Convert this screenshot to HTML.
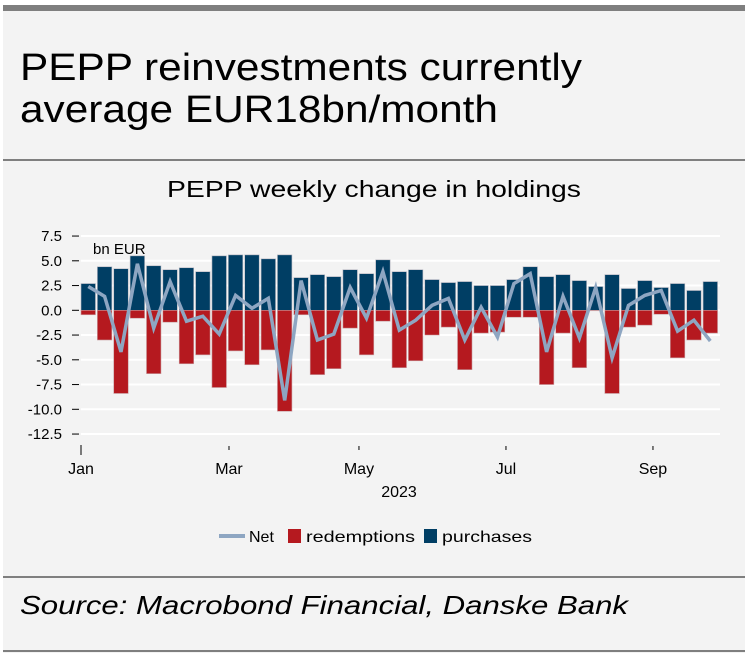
<!DOCTYPE html>
<html><head><meta charset="utf-8"><style>
html,body{margin:0;padding:0;background:#fff;}
svg{display:block;}
</style></head><body>
<svg id="c" width="750" height="657" xmlns="http://www.w3.org/2000/svg" font-family="'Liberation Sans', sans-serif">
<rect x="3" y="5" width="742" height="648" fill="#f3f3f3"/>
<rect x="3" y="5" width="742" height="6" fill="#7f7f7f"/>
<rect x="3" y="159" width="742" height="2" fill="#7f7f7f"/>
<rect x="3" y="576" width="742" height="2" fill="#7f7f7f"/>
<rect x="3" y="650" width="742" height="2" fill="#7f7f7f"/>
<text x="20" y="80" font-size="38" fill="#000" textLength="562" lengthAdjust="spacingAndGlyphs">PEPP reinvestments currently</text>
<text x="20" y="122" font-size="38" fill="#000" textLength="478" lengthAdjust="spacingAndGlyphs">average EUR18bn/month</text>
<text x="167" y="197" font-size="23" fill="#000" textLength="414" lengthAdjust="spacingAndGlyphs">PEPP weekly change in holdings</text>
<g id="grid"></g>
<g id="yax"></g>
<g id="bars"></g>
<g id="line"></g>
<text x="93" y="254" font-size="15" fill="#000">bn EUR</text>
<g id="xax"></g>
<text x="399" y="497" font-size="16" text-anchor="middle" fill="#000">2023</text>
<g>
<line x1="219" y1="536" x2="245" y2="536" stroke="#8ea6c2" stroke-width="4"/>
<text x="249" y="542" font-size="16" fill="#000">Net</text>
<rect x="288" y="529" width="13" height="14" fill="#b5191f"/>
<text x="306" y="542" font-size="16" fill="#000" textLength="109" lengthAdjust="spacingAndGlyphs">redemptions</text>
<rect x="424" y="529" width="13" height="14" fill="#003e64"/>
<text x="442" y="542" font-size="16" fill="#000" textLength="90" lengthAdjust="spacingAndGlyphs">purchases</text>
</g>
<text x="20" y="614" font-size="26" font-style="italic" fill="#000" textLength="608" lengthAdjust="spacingAndGlyphs">Source: Macrobond Financial, Danske Bank</text>
</svg>
<script>
const purchases=[2.7,4.4,4.2,5.5,4.5,4.1,4.3,3.9,5.5,5.6,5.6,5.2,5.6,3.3,3.6,3.4,4.1,3.7,5.1,3.9,4.1,3.1,2.8,2.9,2.5,2.5,3.1,4.4,3.4,3.6,3.0,2.4,3.6,2.2,3.0,2.3,2.7,2.0,2.9];
const redemptions=[-0.45,-3.0,-8.4,-0.8,-6.4,-1.2,-5.4,-4.5,-7.8,-4.1,-5.5,-4.0,-10.2,-0.45,-6.5,-5.9,-1.8,-4.5,-1.1,-5.8,-5.1,-2.5,-1.7,-6.0,-2.3,-2.2,-0.7,-0.7,-7.5,-2.3,-5.8,-0.05,-8.4,-1.7,-1.5,-0.4,-4.8,-3.0,-2.3];
const net=[2.4,1.4,-4.2,4.7,-1.8,2.9,-1.1,-0.6,-2.4,1.5,0.2,1.2,-9.1,3.0,-3.0,-2.4,2.3,-0.8,3.9,-2.0,-1.0,0.5,1.2,-3.0,0.3,-2.7,2.7,3.7,-4.2,1.4,-2.8,2.3,-4.8,0.5,1.5,2.0,-2.1,-1.0,-3.1];
const yTicks=[7.5,5,2.5,0,-2.5,-5,-7.5,-10,-12.5];
const yTickLabels=["7.5","5.0","2.5","0.0","-2.5","-5.0","-7.5","-10.0","-12.5"];
const xTickWeeks=[0,9.04,16.98,25.96,34.94];
const xTickLabels=["Jan","Mar","May","Jul","Sep"];
const NS="http://www.w3.org/2000/svg";
const y=v=>310.3-v*9.9;
const step=16.37, bw=14.5;
const xw=i=>81+i*step;
function mk(p,tag,a){const e=document.createElementNS(NS,tag);for(const k in a)e.setAttribute(k,a[k]);document.getElementById(p).appendChild(e);return e;}
yTicks.forEach((t,i)=>{
 const g=mk('grid','line',{x1:81,x2:720,y1:y(t),y2:y(t),stroke:'#fff','stroke-width':2});
 
 
 const tk=mk('yax','line',{x1:72,x2:79,y1:y(t),y2:y(t),stroke:'#000','stroke-width':1});
 
 
 const l=mk('yax','text',{x:62,y:y(t)+5,'font-size':15,'text-anchor':'end',fill:'#000'});
 l.textContent=yTickLabels[i];
 
 
});
purchases.forEach((v,i)=>{
 const r=mk('bars','rect',{x:xw(i),y:y(v),width:bw,height:y(0)-y(v),fill:'#003e64',stroke:'#b9b9c3','stroke-width':0.6});
 
 
});
redemptions.forEach((v,i)=>{
 const r=mk('bars','rect',{x:xw(i),y:y(0),width:bw,height:y(v)-y(0),fill:'#b5191f',stroke:'#c9a0a3','stroke-width':0.6});
 
 
});
const pts=net.map((v,i)=>(xw(i)+bw/2).toFixed(1)+','+y(v).toFixed(1)).join(' ');
const pl=mk('line','polyline',{points:pts,fill:'none',stroke:'#8ea6c2','stroke-width':3.5,'stroke-linejoin':'miter'});


xTickWeeks.forEach((w,i)=>{
 const x=xw(w);
 const t=mk('xax','line',{x1:x,x2:x,y1:i==0?445:446,y2:i==0?455:450,stroke:'#000','stroke-width':1});
 
 
 const l=mk('xax','text',{x:x,y:474,'font-size':16,'text-anchor':'middle',fill:'#000'});
 l.textContent=xTickLabels[i];
 
 
});
</script>
</body></html>
